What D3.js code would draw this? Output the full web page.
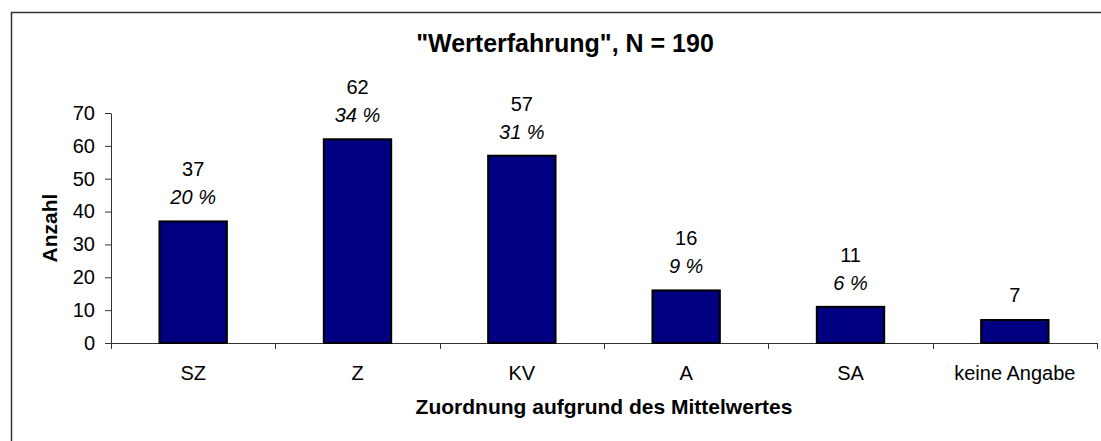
<!DOCTYPE html>
<html>
<head>
<meta charset="utf-8">
<script src="https://cdn.jsdelivr.net/npm/d3@7"></script>
<style>
  body { margin: 0; background: #fff; }
  svg { display: block; font-family: Arial, "Liberation Sans", sans-serif; }
</style>
</head>
<body>
<svg width="1101" height="441"></svg>
<script>
// chart data
var categories = ["SZ", "Z", "KV", "A", "SA", "keine Angabe"];
var counts = [37, 62, 57, 16, 11, 7];
var percents = ["20 %", "34 %", "31 %", "9 %", "6 %", ""];
var yTicks = [0, 10, 20, 30, 40, 50, 60, 70];

function main() {
    var svg = d3.select("svg");

    var plotLeft = 111, plotRight = 1097, plotTop = 113, plotBottom = 343;

    // outer frame (runs off the right/bottom of the picture)
    svg.append("rect")
        .attr("x", 11.5)
        .attr("y", 12.5)
        .attr("width", 1200)
        .attr("height", 600)
        .attr("fill", "none")
        .attr("stroke", "#333")
        .attr("stroke-width", 1.5);

    svg.append("text")
        .attr("x", 565)
        .attr("y", 52)
        .attr("text-anchor", "middle")
        .attr("font-size", "25px")
        .attr("font-weight", "bold")
        .text("\"Werterfahrung\", N = 190");

    var xScale = d3.scaleBand().domain(categories).range([plotLeft, plotRight]).padding(0),
        yScale = d3.scaleLinear().domain([0, 70]).range([plotBottom, plotTop]);

    var barW = xScale.bandwidth() * 0.41;

    // y axis
    var yAxis = svg.append("g")
        .attr("transform", "translate(" + plotLeft + ",0)")
        .call(d3.axisLeft(yScale).tickValues(yTicks).tickSize(6).tickSizeOuter(0).tickPadding(10));
    yAxis.select(".domain").attr("stroke", "#333");
    yAxis.selectAll(".tick line").attr("stroke", "#333");
    yAxis.selectAll("text")
        .attr("font-size", "20px")
        .attr("font-family", "Arial, 'Liberation Sans', sans-serif")
        .attr("fill", "#000");

    // x axis
    var xAxis = svg.append("g")
        .attr("transform", "translate(0," + plotBottom + ")")
        .call(d3.axisBottom(xScale).tickSize(0).tickSizeOuter(0).tickPadding(23));
    xAxis.select(".domain").attr("stroke", "#333");
    xAxis.selectAll("text")
        .attr("font-size", "20px")
        .attr("font-family", "Arial, 'Liberation Sans', sans-serif")
        .attr("fill", "#000");

    // tick marks between categories
    var edges = categories.map(function(d) { return xScale(d); }).concat([plotRight]);
    svg.append("g").selectAll("line")
        .data(edges)
        .enter().append("line")
        .attr("x1", function(d) { return Math.round(d) + 0.5; })
        .attr("x2", function(d) { return Math.round(d) + 0.5; })
        .attr("y1", plotBottom)
        .attr("y2", plotBottom + 6)
        .attr("stroke", "#333");

    // bars
    var data = categories.map(function(c, i) { return { cat: c, value: counts[i], pct: percents[i] }; });

    svg.selectAll(".bar")
        .data(data)
        .enter().append("rect")
        .attr("class", "bar")
        .attr("x", function(d) { return xScale(d.cat) + (xScale.bandwidth() - barW) / 2; })
        .attr("y", function(d) { return yScale(d.value); })
        .attr("width", barW)
        .attr("height", function(d) { return plotBottom - yScale(d.value); })
        .attr("fill", "#000080")
        .attr("stroke", "#000")
        .attr("stroke-width", 2);

    // value labels
    var labels = svg.append("g").selectAll("g")
        .data(data)
        .enter().append("g")
        .attr("transform", function(d) {
            return "translate(" + (xScale(d.cat) + xScale.bandwidth() / 2) + "," + yScale(d.value) + ")";
        })
        .attr("text-anchor", "middle")
        .attr("font-size", "20px");

    labels.append("text")
        .attr("y", function(d) { return d.pct ? -45 : -18; })
        .text(function(d) { return d.value; });

    labels.append("text")
        .attr("y", -17)
        .attr("font-style", "italic")
        .text(function(d) { return d.pct; });

    // axis titles
    svg.append("text")
        .attr("x", (plotLeft + plotRight) / 2)
        .attr("y", 414)
        .attr("text-anchor", "middle")
        .attr("font-size", "21px")
        .attr("font-weight", "bold")
        .text("Zuordnung aufgrund des Mittelwertes");

    svg.append("text")
        .attr("transform", "translate(57," + ((plotTop + plotBottom) / 2) + ") rotate(-90)")
        .attr("text-anchor", "middle")
        .attr("font-size", "21px")
        .attr("font-weight", "bold")
        .text("Anzahl");
}

main();
</script>
</body>
</html>
